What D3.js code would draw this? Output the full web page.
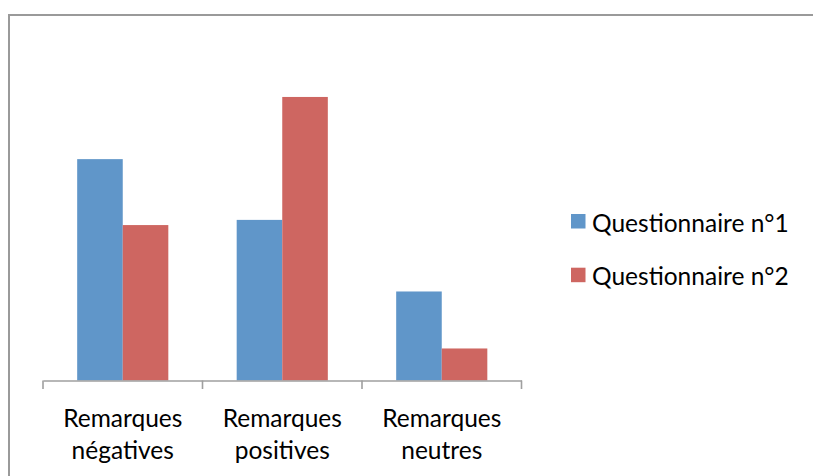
<!DOCTYPE html>
<html><head><meta charset="utf-8">
<script src="https://cdn.jsdelivr.net/npm/d3@7"></script>
<style>html,body{margin:0;padding:0;background:#fff;overflow:hidden}</style>
</head><body>
<svg id="c" width="813" height="476"></svg>
<script>
const categories = [["Remarques","négatives"],["Remarques","positives"],["Remarques","neutres"]];
const series = ["Questionnaire n°1","Questionnaire n°2"];
const values1 = [47.0, 34.1, 18.9];
const values2 = [33.0, 60.2, 6.8];
const colors = ["#6096C9","#CE6661"];
const yMax = 70;

const svg = d3.select("#c");
const font = "Lato, 'Open Sans', sans-serif";

// outer border
svg.append("rect").attr("x",9).attr("y",15).attr("width",900).attr("height",600)
  .attr("fill","none").attr("stroke","#9a9a9a").attr("stroke-width",2);

const catKeys = categories.map(c=>c.join(" "));
const x0 = d3.scaleBand().domain(catKeys).range([43,521.5]).paddingInner(0).paddingOuter(0);
const x1 = d3.scaleBand().domain(series).range([0,x0.bandwidth()]).paddingInner(0).paddingOuter(0.75);
const y = d3.scaleLinear().domain([0,yMax]).range([380.5,50.8]);

const data = catKeys.map((k,i)=>({k, vals:[values1[i],values2[i]]}));
const g = svg.append("g");
data.forEach(d=>{
  d.vals.forEach((v,j)=>{
    g.append("rect")
      .attr("x", x0(d.k)+x1(series[j]))
      .attr("y", y(v))
      .attr("width", x1.bandwidth())
      .attr("height", y(0)-y(v))
      .attr("fill", colors[j]);
  });
});

// axis
const axis = d3.axisBottom(x0).tickSize(0).tickFormat("");
const ax = svg.append("g").attr("transform","translate(0,380.5)").call(axis);
ax.select(".domain").attr("stroke","#9f9f9f").attr("stroke-width",1.6);
ax.selectAll(".tick").remove();
const tickPos = catKeys.map(k=>x0(k)).concat([x0.range()[1]]);
ax.selectAll("line.tk").data(tickPos).enter().append("line")
  .attr("x1",d=>d).attr("x2",d=>d).attr("y1",0).attr("y2",8.5)
  .attr("stroke","#9f9f9f").attr("stroke-width",1.6);

// category labels
categories.forEach((c,i)=>{
  const cx = x0(catKeys[i]) + x0.bandwidth()/2;
  const t = svg.append("text").attr("x",cx).attr("y",427)
    .attr("text-anchor","middle").attr("font-family",font).attr("font-size",24.5).attr("fill","#000");
  c.forEach((line,li)=>{
    t.append("tspan").attr("x",cx).attr("y",427+li*31.5).text(line);
  });
});

// legend
series.forEach((s,j)=>{
  const ly = 214 + j*53.7;
  svg.append("rect").attr("x",571).attr("y",ly).attr("width",14.5).attr("height",14.5).attr("fill",colors[j]);
  svg.append("text").attr("x",592).attr("y",ly+17.7).attr("font-family",font)
    .attr("font-size",24.5).attr("fill","#000").text(s);
});
</script>
</body></html>
